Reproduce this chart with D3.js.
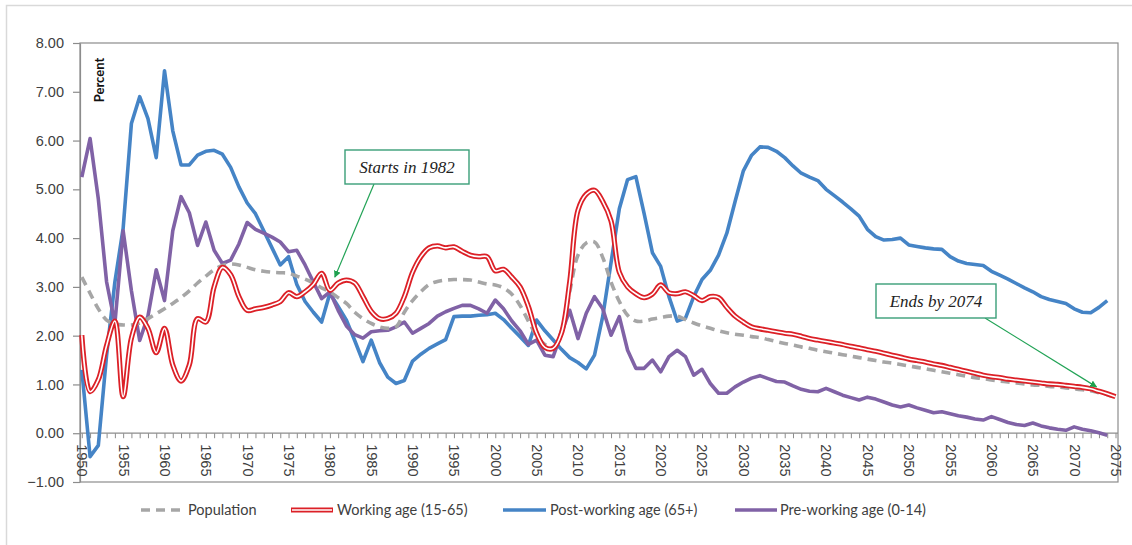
<!DOCTYPE html>
<html>
<head>
<meta charset="utf-8">
<script src="https://cdn.jsdelivr.net/npm/d3@7"></script>
<style>
  body { margin: 0; background: #fff; }
  svg { display: block; font-family: Lato, "Open Sans", sans-serif; }
</style>
</head>
<body>
<div id="vis-holder"></div>
<script>
// years on the category axis
var YEAR_START = 1950, YEAR_END = 2075;
var YEARS = d3.range(YEAR_START, YEAR_END + 1);
var Y_TICKS = [-1, 0, 1, 2, 3, 4, 5, 6, 7, 8];

var SERIES_NAMES = ["Population", "Working age (15-65)", "Post-working age (65+)", "Pre-working age (0-14)"];

// growth rates, percent, 1950 onward
var population = [3.20,2.87,2.55,2.32,2.24,2.22,2.22,2.26,2.35,2.45,
  2.55,2.66,2.78,2.92,3.08,3.22,3.35,3.44,3.47,3.45,
  3.40,3.35,3.32,3.30,3.29,3.28,3.22,3.16,3.08,2.98,
  2.90,2.78,2.66,2.48,2.35,2.25,2.18,2.15,2.18,2.48,
  2.72,2.90,3.05,3.11,3.14,3.15,3.15,3.14,3.10,3.06,
  3.04,2.98,2.85,2.62,2.30,2.00,1.82,1.76,2.10,2.90,
  3.65,3.90,3.92,3.60,3.10,2.70,2.42,2.30,2.30,2.34,
  2.37,2.40,2.40,2.33,2.26,2.20,2.15,2.10,2.06,2.03,
  2.01,1.98,1.96,1.92,1.88,1.84,1.81,1.77,1.74,1.70,
  1.67,1.64,1.61,1.58,1.55,1.52,1.49,1.46,1.44,1.41,
  1.38,1.35,1.32,1.29,1.26,1.23,1.20,1.17,1.14,1.12,
  1.09,1.07,1.05,1.03,1.01,0.99,0.98,0.96,0.95,0.93,
  0.91,0.89,0.87,0.83,0.79,0.74];

var working = [2.01,0.85,1.10,1.80,2.30,0.75,1.95,2.38,2.15,1.65,
  2.15,1.40,1.07,1.40,2.35,2.28,3.00,3.40,3.25,2.80,
  2.52,2.55,2.58,2.63,2.70,2.88,2.80,2.90,3.05,3.28,
  2.93,3.08,3.14,3.08,2.80,2.50,2.35,2.35,2.46,2.80,
  3.30,3.62,3.80,3.84,3.80,3.82,3.73,3.65,3.62,3.62,
  3.33,3.36,3.20,3.00,2.60,2.05,1.76,1.74,2.05,3.10,
  4.57,4.90,4.98,4.75,4.35,3.30,3.00,2.86,2.78,2.85,
  3.04,2.88,2.86,2.90,2.82,2.72,2.80,2.78,2.58,2.40,
  2.28,2.18,2.14,2.11,2.08,2.05,2.03,1.99,1.94,1.91,
  1.88,1.85,1.82,1.78,1.75,1.71,1.68,1.64,1.60,1.56,
  1.52,1.49,1.46,1.42,1.39,1.35,1.31,1.27,1.23,1.19,
  1.16,1.14,1.11,1.09,1.07,1.05,1.03,1.01,1.00,0.98,
  0.96,0.94,0.91,0.86,0.81,0.75];

var postWorking = [1.30,-0.48,-0.25,1.60,3.10,4.20,6.35,6.90,6.45,5.65,
  7.43,6.20,5.50,5.50,5.70,5.78,5.80,5.72,5.45,5.05,
  4.72,4.50,4.15,3.80,3.45,3.62,3.05,2.70,2.48,2.28,
  2.87,2.60,2.32,1.90,1.47,1.91,1.45,1.15,1.02,1.08,
  1.48,1.62,1.74,1.83,1.92,2.39,2.40,2.40,2.42,2.43,
  2.46,2.33,2.15,1.98,1.80,2.32,2.10,1.91,1.72,1.55,
  1.45,1.32,1.60,2.40,3.50,4.60,5.20,5.26,4.50,3.70,
  3.42,2.80,2.30,2.36,2.80,3.15,3.34,3.65,4.10,4.75,
  5.38,5.70,5.87,5.86,5.78,5.65,5.48,5.33,5.25,5.18,
  5.00,4.87,4.74,4.60,4.45,4.18,4.03,3.96,3.97,4.00,
  3.86,3.83,3.80,3.78,3.77,3.62,3.53,3.48,3.46,3.44,
  3.32,3.24,3.16,3.07,2.98,2.90,2.80,2.74,2.70,2.66,
  2.55,2.48,2.47,2.58,2.72];

var preWorking = [5.25,6.04,4.80,3.10,2.25,4.15,2.92,1.90,2.40,3.35,
  2.72,4.15,4.85,4.52,3.85,4.33,3.75,3.48,3.55,3.88,
  4.32,4.18,4.10,4.02,3.92,3.72,3.75,3.45,3.10,2.76,
  2.90,2.52,2.20,2.02,1.95,2.08,2.10,2.11,2.18,2.28,
  2.05,2.15,2.25,2.40,2.49,2.56,2.62,2.62,2.55,2.46,
  2.73,2.55,2.30,2.10,1.82,1.91,1.60,1.57,2.05,2.52,
  1.94,2.46,2.80,2.55,2.01,2.39,1.70,1.33,1.33,1.50,
  1.26,1.57,1.70,1.57,1.19,1.31,1.02,0.82,0.82,0.95,
  1.05,1.13,1.18,1.12,1.06,1.05,0.97,0.90,0.86,0.85,
  0.92,0.85,0.78,0.73,0.68,0.74,0.70,0.64,0.58,0.54,
  0.58,0.52,0.47,0.42,0.44,0.40,0.36,0.33,0.29,0.27,
  0.34,0.28,0.22,0.18,0.16,0.21,0.15,0.11,0.08,0.06,
  0.13,0.08,0.05,0.01,-0.04];

var NOTES = [
  {text: "Starts in 1982", year: 1980.6, value: 3.2, box: [345, 150, 124, 34], from: [374, 184]},
  {text: "Ends by 2074", year: 2072.7, value: 0.95, box: [876, 284, 120, 34], from: [985, 318]}
];

var W = 1132, H = 545;
var plot = {left: 80, right: 1118, top: 43, bottom: 482};

var svg = d3.select("#vis-holder")
  .append("svg")
    .attr("width", W)
    .attr("height", H);

// outer chart frame
svg.append("rect")
  .attr("x", 6.5).attr("y", 5.5)
  .attr("width", W + 20).attr("height", H + 20)
  .attr("fill", "none")
  .attr("stroke", "#d9d9d9")
  .attr("stroke-width", 1.5);

var x = d3.scaleLinear()
  .domain([YEAR_START, YEAR_END])
  .range([81.8, 1115.5]);

var y = d3.scaleLinear()
  .domain([-1, 8])
  .range([plot.bottom, plot.top]);

// plot area border
svg.append("rect")
  .attr("x", plot.left).attr("y", plot.top)
  .attr("width", plot.right - plot.left)
  .attr("height", plot.bottom - plot.top)
  .attr("fill", "none")
  .attr("stroke", "#8c8c8c")
  .attr("stroke-width", 1.2);

// Y axis
var yAxis = svg.append("g")
  .attr("transform", "translate(" + plot.left + ",0)")
  .call(d3.axisLeft(y).tickValues(Y_TICKS).tickSize(7).tickSizeOuter(0).tickFormat(d3.format(".2f")));
yAxis.select(".domain").attr("stroke", "#8c8c8c").attr("stroke-width", 1.2);
yAxis.selectAll(".tick line").attr("stroke", "#8c8c8c").attr("stroke-width", 1.2);
yAxis.selectAll(".tick text")
  .attr("x", -16)
  .attr("fill", "#404040")
  .style("font-size", "14.5px");

// X axis sitting on zero
var xAxis = svg.append("g")
  .attr("transform", "translate(0," + y(0) + ")")
  .call(d3.axisBottom(x).tickValues(YEARS).tickSize(5).tickSizeOuter(0)
    .tickFormat(d => d % 5 === 0 ? d : ""));
xAxis.select(".domain").attr("stroke", "#8c8c8c").attr("stroke-width", 1.2)
  .attr("d", "M" + plot.left + ",0H" + plot.right);
xAxis.selectAll(".tick line").attr("stroke", "#8c8c8c").attr("stroke-width", 1);
xAxis.selectAll(".tick text")
  .attr("transform", "rotate(90)")
  .attr("x", 11)
  .attr("y", 0)
  .attr("dy", "0.35em")
  .attr("text-anchor", "start")
  .attr("fill", "#404040")
  .style("font-size", "14.5px");

// axis title
svg.append("text")
  .attr("transform", "translate(104,80) rotate(-90)")
  .attr("text-anchor", "middle")
  .style("font-size", "13px")
  .style("font-weight", "bold")
  .attr("fill", "#111")
  .text("Percent");

function toPoints(values) {
  return values.map((v, i) => ({year: YEARS[i], value: v}));
}

var smooth = d3.line()
  .x(d => x(d.year))
  .y(d => y(d.value))
  .curve(d3.curveCatmullRom.alpha(0.5));

var straight = d3.line()
  .x(d => x(d.year))
  .y(d => y(d.value));

var lines = svg.append("g");

lines.append("path")
  .attr("d", straight(toPoints(postWorking)))
  .attr("fill", "none")
  .attr("stroke", "#4584c6")
  .attr("stroke-width", 3.6)
  .attr("stroke-linejoin", "round");

lines.append("path")
  .attr("d", straight(toPoints(preWorking)))
  .attr("fill", "none")
  .attr("stroke", "#8062a6")
  .attr("stroke-width", 3.6)
  .attr("stroke-linejoin", "round");

lines.append("path")
  .attr("d", smooth(toPoints(population)))
  .attr("fill", "none")
  .attr("stroke", "#a6a6a6")
  .attr("stroke-width", 3.6)
  .attr("stroke-dasharray", "9,6");

lines.append("path")
  .attr("d", smooth(toPoints(working)))
  .attr("fill", "none")
  .attr("stroke", "#dc2027")
  .attr("stroke-width", 5.2);
lines.append("path")
  .attr("d", smooth(toPoints(working)))
  .attr("fill", "none")
  .attr("stroke", "#fff")
  .attr("stroke-width", 1.6);

// annotations
var defs = svg.append("defs");
defs.append("marker")
  .attr("id", "arrow")
  .attr("viewBox", "0 0 10 10")
  .attr("refX", 9).attr("refY", 5)
  .attr("markerWidth", 7).attr("markerHeight", 7)
  .attr("markerUnits", "userSpaceOnUse")
  .attr("orient", "auto")
  .append("path")
    .attr("d", "M0,0L10,5L0,10Z")
    .attr("fill", "#1fa14f");

NOTES.forEach(n => {
  svg.append("line")
    .attr("x1", n.from[0]).attr("y1", n.from[1])
    .attr("x2", x(n.year)).attr("y2", y(n.value))
    .attr("stroke", "#22a356")
    .attr("stroke-width", 1.2)
    .attr("marker-end", "url(#arrow)");
  svg.append("rect")
    .attr("x", n.box[0]).attr("y", n.box[1])
    .attr("width", n.box[2]).attr("height", n.box[3])
    .attr("fill", "#fff")
    .attr("stroke", "#3a9e78")
    .attr("stroke-width", 1.4);
  svg.append("text")
    .attr("x", n.box[0] + n.box[2] / 2)
    .attr("y", n.box[1] + n.box[3] / 2)
    .attr("dy", "0.35em")
    .attr("text-anchor", "middle")
    .style("font-family", "'Liberation Serif', 'DejaVu Serif', serif")
    .style("font-style", "italic")
    .style("font-size", "17px")
    .attr("fill", "#222")
    .text(n.text);
});

// legend
var legendY = 510;
var legendItems = [
  {name: SERIES_NAMES[0], x0: 141, x1: 180, tx: 188},
  {name: SERIES_NAMES[1], x0: 291, x1: 333, tx: 337},
  {name: SERIES_NAMES[2], x0: 503, x1: 546, tx: 550},
  {name: SERIES_NAMES[3], x0: 735, x1: 777, tx: 780}
];
var legend = svg.append("g");
legendItems.forEach((it, i) => {
  var seg = legend.append("line")
    .attr("x1", it.x0).attr("x2", it.x1)
    .attr("y1", legendY).attr("y2", legendY)
    .attr("stroke-width", i === 1 ? 5.2 : 3.6);
  if (i === 0) seg.attr("stroke", "#a6a6a6").attr("stroke-dasharray", "9,6");
  if (i === 1) {
    seg.attr("stroke", "#dc2027");
    legend.append("line")
      .attr("x1", it.x0 + 1).attr("x2", it.x1 - 1)
      .attr("y1", legendY).attr("y2", legendY)
      .attr("stroke", "#fff").attr("stroke-width", 1.6);
  }
  if (i === 2) seg.attr("stroke", "#4584c6");
  if (i === 3) seg.attr("stroke", "#8062a6");
  legend.append("text")
    .attr("x", it.tx).attr("y", legendY)
    .attr("dy", "0.35em")
    .attr("fill", "#404040")
    .style("font-size", "14.5px")
    .text(it.name);
});
</script>
</body>
</html>
